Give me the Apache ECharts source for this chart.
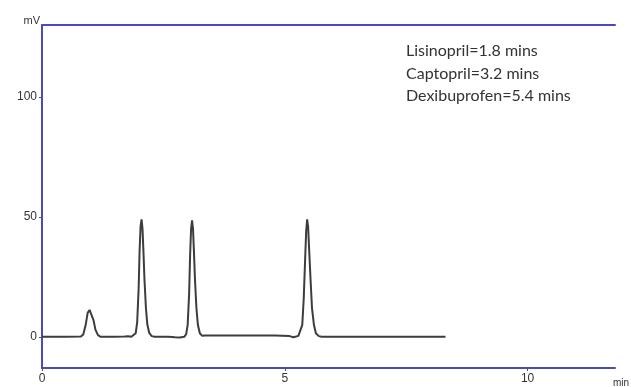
<!DOCTYPE html>
<html>
<head>
<meta charset="utf-8">
<script src="https://cdn.jsdelivr.net/npm/echarts@6/dist/echarts.min.js"></script>
<style>
  html, body { margin: 0; padding: 0; background: #fff; }
  #chart { width: 631px; height: 387px; }
</style>
</head>
<body>
<div id="chart"></div>
<script>
// chromatogram trace (time in min, signal in mV)
var times = [0, 0.5, 0.8, 0.85, 0.9, 0.94, 0.98, 1.02, 1.06, 1.1, 1.15, 1.2, 1.5, 1.7, 1.74, 1.78, 1.84,
  1.88, 1.93, 1.96, 1.99, 2.01, 2.03, 2.05, 2.07, 2.09, 2.11, 2.14, 2.17, 2.21, 2.26, 2.32,
  2.6, 2.74, 2.78, 2.84, 2.93, 2.97, 3.0, 3.03, 3.05, 3.07, 3.09, 3.11, 3.13, 3.15, 3.18, 3.21, 3.25, 3.3, 3.36,
  4.0, 4.8, 5.1, 5.18, 5.22, 5.28, 5.32, 5.36, 5.39, 5.42, 5.44, 5.46, 5.48, 5.5, 5.53, 5.56, 5.6, 5.64, 5.7, 5.76,
  6.5, 7.5, 8.31];
var signal = [0, 0, 0.1, 1, 5, 10, 11.2, 10.5, 7, 3, 0.8, 0, 0, 0.1, 0.6, 0.2, 0,
  0.3, 1.5, 6, 20, 36, 46, 49, 45, 35, 24, 12, 5, 1.5, 0.3, 0,
  0, -0.2, -0.6, -0.3, 0, 1.2, 5, 18, 34, 45, 48.5, 45, 35, 24, 12, 5, 1.5, 0.4, 0.5,
  0.6, 0.6, 0.3, -0.2, 0.2, 0.4, 1.2, 5, 16, 33, 44, 49, 46, 37, 24, 12, 5, 1.5, 0.3, 0,
  0, 0, 0];
var trace = times.map(function (t, i) { return [t, signal[i]]; });

var xTicks = [0, 5, 10];
var yTicks = [0, 50, 100];
var notes = ['Lisinopril=1.8 mins', 'Captopril=3.2 mins', 'Dexibuprofen=5.4 mins'];

var axisBlue = '#4b4bb8';
var chart = echarts.init(document.getElementById('chart'));
chart.setOption({
  animation: false,
  backgroundColor: '#fff',
  grid: { left: 42, top: 25, right: 16, bottom: 19, outerBoundsMode: 'none' },
  xAxis: [{
    type: 'value',
    min: 0,
    max: 11.8,
    name: 'min',
    nameLocation: 'end',
    nameGap: -2,
    nameTextStyle: { fontFamily: 'Liberation Sans', fontSize: 10, color: '#333', align: 'left', verticalAlign: 'top', padding: [10, 0, 0, 0] },
    axisLine: { show: true, onZero: false, lineStyle: { color: axisBlue, width: 2 } },
    axisTick: { show: true, length: 3, customValues: xTicks, lineStyle: { color: '#555' } },
    axisLabel: { customValues: xTicks, fontFamily: 'Liberation Sans', fontSize: 12, color: '#333', margin: 5 },
    splitLine: { show: false }
  }, {
    type: 'value',
    position: 'top',
    min: 0,
    max: 11.8,
    axisLine: { show: true, onZero: false, lineStyle: { color: axisBlue, width: 2 } },
    axisTick: { show: false },
    axisLabel: { show: false },
    splitLine: { show: false }
  }],
  yAxis: {
    type: 'value',
    min: -13,
    max: 130,
    name: 'mV',
    nameLocation: 'end',
    nameGap: -1,
    nameTextStyle: { fontFamily: 'Liberation Sans', fontSize: 11, color: '#333', align: 'right', padding: [0, 2, 0, 0] },
    axisLine: { show: true, onZero: false, lineStyle: { color: axisBlue, width: 2 } },
    axisTick: { show: true, length: 3, customValues: yTicks, lineStyle: { color: '#555' } },
    axisLabel: { customValues: yTicks, fontFamily: 'Liberation Sans', fontSize: 12, color: '#333', margin: 5 },
    splitLine: { show: false }
  },
  graphic: [{
    type: 'text',
    left: 406,
    top: 40,
    style: {
      text: notes.join('\n'),
      fontFamily: 'Lato',
      fontSize: 16,
      lineHeight: 22.5,
      fill: '#333'
    }
  }],
  series: [{
    type: 'line',
    xAxisIndex: 0,
    data: trace,
    showSymbol: false,
    lineStyle: { color: '#3d3d3d', width: 2 }
  }]
});
</script>
</body>
</html>
